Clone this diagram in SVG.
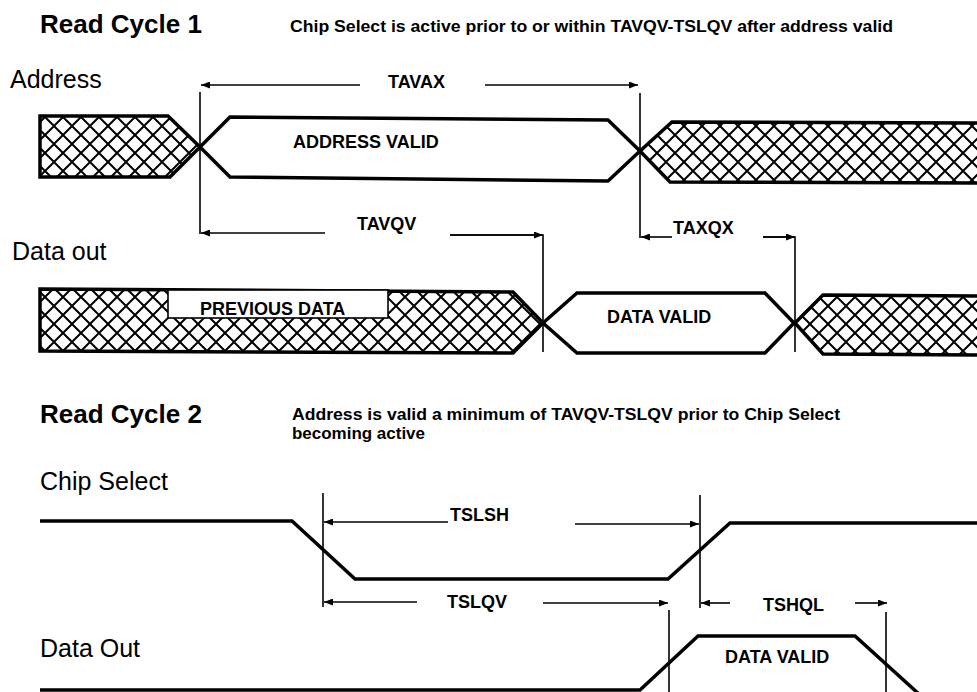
<svg xmlns="http://www.w3.org/2000/svg" width="977" height="692" viewBox="0 0 977 692">
<defs>
<pattern id="hatch" width="18" height="18" patternUnits="userSpaceOnUse">
<path d="M-2,-2 L20,20 M20,-2 L-2,20" stroke="#000" stroke-width="2" fill="none"/>
</pattern>
<marker id="ah" markerWidth="9" markerHeight="7" refX="9" refY="3.5" orient="auto" markerUnits="userSpaceOnUse">
<path d="M0,0 L9,3.5 L0,7 Z" fill="#000"/>
</marker>
<style>
.title{font-family:"Liberation Sans",Arial,sans-serif;font-weight:bold;font-size:26px;fill:#000}
.cap{font-family:"Liberation Sans",Arial,sans-serif;font-weight:bold;font-size:16px;fill:#000}
.sig{font-family:"Liberation Sans",Arial,sans-serif;font-size:25px;fill:#000}
.lbl{font-family:"Liberation Sans",Arial,sans-serif;font-weight:bold;font-size:18px;fill:#000}
.wave{fill:none;stroke:#000;stroke-width:3.5;stroke-linejoin:miter}
.hat{fill:url(#hatch);stroke:#000;stroke-width:3.5;stroke-linejoin:miter}
.dim{fill:none;stroke:#000;stroke-width:1.6}
.arr{fill:none;stroke:#000;stroke-width:1.6;marker-end:url(#ah)}
</style>
</defs>
<rect width="977" height="692" fill="#fff"/>

<g id="read-cycle-1">
<text class="title" x="40" y="33">Read Cycle 1</text>
<text class="cap" x="290" y="32" textLength="603" lengthAdjust="spacingAndGlyphs">Chip Select is active prior to or within TAVQV-TSLQV after address valid</text>
</g>

<g id="address">
<text class="sig" x="10" y="88">Address</text>
<polygon class="hat" points="40,116 168,116 200,147 170,177 40,177"/>
<path class="wave" d="M200,147 L230,117 L608,120 L640,151 L608,181 L230,177 Z"/>
<polygon class="hat" points="640,151 672,122 980,123 980,183 670,182"/>
<text class="lbl" x="293" y="148">ADDRESS VALID</text>
</g>

<g id="data-out-1">
<text class="sig" x="12" y="260">Data out</text>
<polygon class="hat" points="40,289 513,292 543,323 513,353 40,351"/>
<rect x="168" y="290" width="220" height="28" fill="#fff" stroke="#000" stroke-width="1.6"/>
<text class="lbl" x="200" y="315">PREVIOUS DATA</text>
<path class="wave" d="M543,323 L577,293 L765,293 L794,323 L765,353 L577,353 Z"/>
<polygon class="hat" points="795,323 823,295 980,296 980,355 823,354"/>
<text class="lbl" x="607" y="323">DATA VALID</text>
</g>

<g id="read-cycle-2">
<text class="title" x="40" y="423">Read Cycle 2</text>
<text class="cap" x="292" y="420" textLength="548" lengthAdjust="spacingAndGlyphs">Address is valid a minimum of TAVQV-TSLQV prior to Chip Select</text>
<text class="cap" x="292" y="439" textLength="133" lengthAdjust="spacingAndGlyphs">becoming active</text>
</g>

<g id="chip-select">
<text class="sig" x="40" y="490">Chip Select</text>
<path class="wave" d="M40,521 L292,521 L355,579 L668,579 L730,523 L980,523"/>
</g>

<g id="data-out-2">
<text class="sig" x="40" y="657">Data Out</text>
<path class="wave" d="M40,690 L640,690 L698,636 L855,636 L920,695"/>
<text class="lbl" x="725" y="663">DATA VALID</text>
</g>

<g id="connectors">
<line class="arr" x1="360" y1="85" x2="201" y2="85"/>
<line class="arr" x1="485" y1="85" x2="638" y2="85"/>
<text class="lbl" x="388" y="88">TAVAX</text>
<line class="dim" x1="200" y1="92" x2="200" y2="234"/>
<line class="dim" x1="640" y1="93" x2="640" y2="238"/>
<line class="arr" x1="325" y1="233" x2="201" y2="233"/>
<text class="lbl" x="357" y="230">TAVQV</text>
<polyline class="dim" points="450,235 543,235 543,352"/>
<line class="arr" x1="450" y1="235" x2="543" y2="235"/>
<line class="arr" x1="672" y1="237" x2="641" y2="237"/>
<text class="lbl" x="673" y="234">TAXQX</text>
<polyline class="dim" points="763,237 795,237 795,352"/>
<line class="arr" x1="763" y1="237" x2="795" y2="237"/>
<line class="dim" x1="323" y1="493" x2="323" y2="607"/>
<line class="arr" x1="448" y1="522" x2="324" y2="522"/>
<text class="lbl" x="450" y="521">TSLSH</text>
<line class="arr" x1="575" y1="524" x2="699" y2="524"/>
<line class="dim" x1="700" y1="495" x2="700" y2="608"/>
<line class="arr" x1="417" y1="602" x2="324" y2="602"/>
<text class="lbl" x="447" y="608">TSLQV</text>
<line class="arr" x1="543" y1="603" x2="668" y2="603"/>
<line class="dim" x1="669" y1="610" x2="669" y2="692"/>
<line class="arr" x1="730" y1="603" x2="701" y2="603"/>
<text class="lbl" x="763" y="611">TSHQL</text>
<line class="arr" x1="855" y1="603" x2="887" y2="603"/>
<line class="dim" x1="886" y1="612" x2="886" y2="692"/>
</g>
</svg>
